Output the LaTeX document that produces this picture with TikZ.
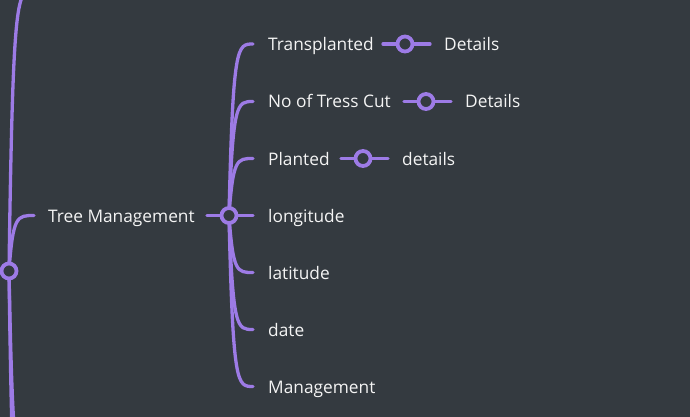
\documentclass[tikz,border=0pt]{standalone}
\usepackage{fontspec}
\setmainfont{Open Sans}
\definecolor{bg}{HTML}{343A40}
\definecolor{pur}{HTML}{9D7BE6}
\definecolor{txt}{HTML}{F4F4F4}
\begin{document}
\begin{tikzpicture}[x=1pt,y=-1pt,line cap=round,
  link/.style={draw=pur,line width=3.3pt},
  dot/.style={circle,draw=pur,line width=3.8pt,fill=bg,minimum size=15pt,inner sep=0pt},
  lbl/.style={text=txt,font=\fontsize{17.3}{20}\selectfont,anchor=base west,inner sep=0pt}]
\fill[bg] (0,0) rectangle (690,417);
\useasboundingbox (0,0) rectangle (690,417);
% centres of the dots
\coordinate (r) at (9,271);
\coordinate (t) at (229,215.5);
\coordinate (d1) at (405,44);
\coordinate (d2) at (426,101.5);
\coordinate (d3) at (363,158.5);
% link ends
\coordinate (up) at (34,-10);
\coordinate (dn1) at (34,480);
\coordinate (dn2) at (34,560);
\coordinate (tmL) at (34,215.5);
\coordinate (tmR) at (207,215.5);
\coordinate (c1) at (253,44);
\coordinate (c2) at (253,101.5);
\coordinate (c3) at (253,158.5);
\coordinate (c4) at (253,215.5);
\coordinate (c5) at (253,272.5);
\coordinate (c6) at (253,329.5);
\coordinate (c7) at (253,386.5);
\coordinate (a1) at (383,44);   \coordinate (b1) at (430,44);
\coordinate (a2) at (404,101.5);\coordinate (b2) at (451,101.5);
\coordinate (a3) at (341,158.5);\coordinate (b3) at (388,158.5);
% labels
\node[lbl] (tm) at (48,222) {Tree Management};
\node[lbl] (l1) at (268,50.5) {Transplanted};
\node[lbl] (l2) at (268,108) {No of Tress Cut};
\node[lbl] (l3) at (268,165) {Planted};
\node[lbl] (l4) at (268,222) {longitude};
\node[lbl] (l5) at (268,279) {latitude};
\node[lbl] (l6) at (268,336) {date};
\node[lbl] (l7) at (268,393) {Management};
\node[lbl] (e1) at (444,50.5) {Details};
\node[lbl] (e2) at (465,108) {Details};
\node[lbl] (e3) at (402,165) {details};
% root links
\draw[link] (r) .. controls (13,-10) and (17,-10) .. (up);
\draw[link] (r) .. controls (13,480) and (17,480) .. (dn1);
\draw[link] (r) .. controls (13,560) and (17,560) .. (dn2);
\draw[link] (r) .. controls (13,215.5) and (17,215.5) .. (tmL);
\draw[link] (tmR) -- (t);
% Tree Management links
\draw[link] (t) .. controls (233,44) and (237,44) .. (c1);
\draw[link] (t) .. controls (233,101.5) and (237,101.5) .. (c2);
\draw[link] (t) .. controls (233,158.5) and (237,158.5) .. (c3);
\draw[link] (t) -- (c4);
\draw[link] (t) .. controls (233,272.5) and (237,272.5) .. (c5);
\draw[link] (t) .. controls (233,329.5) and (237,329.5) .. (c6);
\draw[link] (t) .. controls (233,386.5) and (237,386.5) .. (c7);
% detail links
\draw[link] (a1) -- (b1);
\draw[link] (a2) -- (b2);
\draw[link] (a3) -- (b3);
% dots
\node[dot] (rd) at (r) {};
\node[dot] (td) at (t) {};
\node[dot] (dd1) at (d1) {};
\node[dot] (dd2) at (d2) {};
\node[dot] (dd3) at (d3) {};
\end{tikzpicture}
\end{document}
